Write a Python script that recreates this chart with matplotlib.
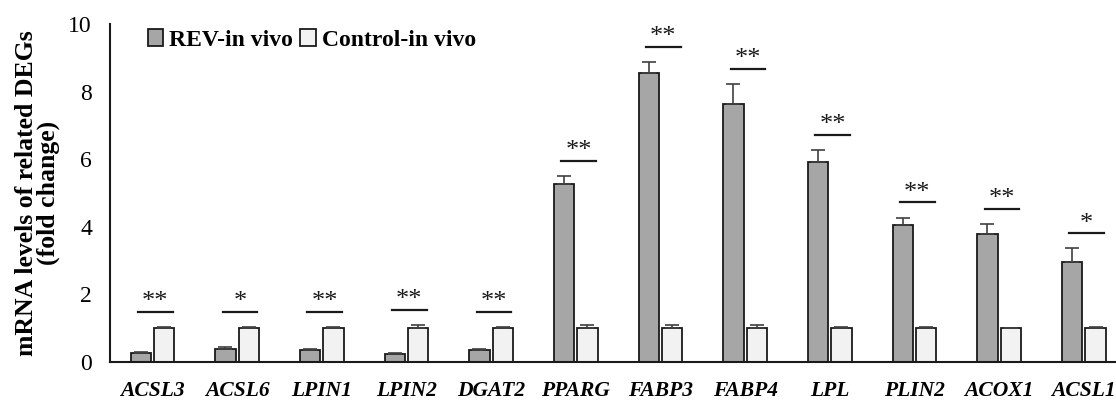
import matplotlib.pyplot as plt
import numpy as np

plt.rcParams['font.family'] = ['Liberation Serif', 'DejaVu Serif']

genes = ["ACSL3", "ACSL6", "LPIN1", "LPIN2", "DGAT2", "PPARG",
         "FABP3", "FABP4", "LPL", "PLIN2", "ACOX1", "ACSL1"]
rev = [0.26, 0.39, 0.36, 0.24, 0.35, 5.27, 8.56, 7.62, 5.93, 4.05, 3.79, 2.96]
rev_err = [0.03, 0.05, 0.02, 0.02, 0.03, 0.24, 0.32, 0.60, 0.35, 0.22, 0.30, 0.40]
ctrl = [1.0, 1.0, 1.0, 1.0, 1.0, 1.0, 1.0, 1.0, 1.0, 1.0, 1.0, 1.0]
ctrl_err = [0.03, 0.04, 0.04, 0.09, 0.04, 0.08, 0.08, 0.08, 0.04, 0.04, 0.02, 0.04]
stars = ["**", "*", "**", "**", "**", "**", "**", "**", "**", "**", "**", "*"]

x = np.arange(len(genes))
w = 0.24
off = 0.138

fig = plt.figure(figsize=(11.16, 4), dpi=100)
ax = fig.add_axes([0.0986, 0.095, 0.9014, 0.845])

err_kw = dict(ecolor='#404040', elinewidth=1.2, capsize=5, capthick=1.2)
ax.bar(x - off, rev, w, color='#a6a6a6', edgecolor='#1a1a1a', linewidth=1.3,
       yerr=[np.zeros(len(rev)), rev_err], error_kw=err_kw, label='REV-in vivo')
ax.bar(x + off, ctrl, w, color='#f2f2f2', edgecolor='#1a1a1a', linewidth=1.3,
       yerr=[np.zeros(len(ctrl)), ctrl_err], error_kw=err_kw, label='Control-in vivo')

# significance lines and stars
for i in range(len(genes)):
    top = max(rev[i] + rev_err[i], ctrl[i] + ctrl_err[i])
    ly = top + 0.45
    ax.plot([x[i] - 0.17, x[i] + 0.24], [ly, ly], color='#1a1a1a', lw=1.6)
    ax.text(x[i] + 0.035, ly - 0.04, stars[i], ha='center', va='bottom',
            fontsize=19, color='#1a1a1a')

ax.set_xlim(-0.5, 11.38)
ax.set_ylim(0, 10)
ax.set_yticks([0, 2, 4, 6, 8, 10])
ax.set_xticks(x)
ax.set_xticklabels(genes, fontsize=15.5, fontweight='bold', fontstyle='italic')
ax.tick_params(axis='x', length=0, pad=14)
ax.tick_params(axis='y', length=0, pad=13, labelsize=17)
for s in ['top', 'right']:
    ax.spines[s].set_visible(False)
for s in ['left', 'bottom']:
    ax.spines[s].set_linewidth(1.5)
    ax.spines[s].set_color('#1a1a1a')

ax.set_ylabel("mRNA levels of related DEGs\n(fold change)", fontsize=18.5,
              fontweight='bold', linespacing=0.9, labelpad=6)

ax.legend(loc='center left', bbox_to_anchor=(0.0378, 0.953), ncol=2, frameon=False,
          prop={'size': 17, 'weight': 'bold'}, borderpad=0, borderaxespad=0,
          handlelength=0.65, handleheight=0.7, handletextpad=0.25, columnspacing=0.3)

fig.savefig("out.png", dpi=100)
